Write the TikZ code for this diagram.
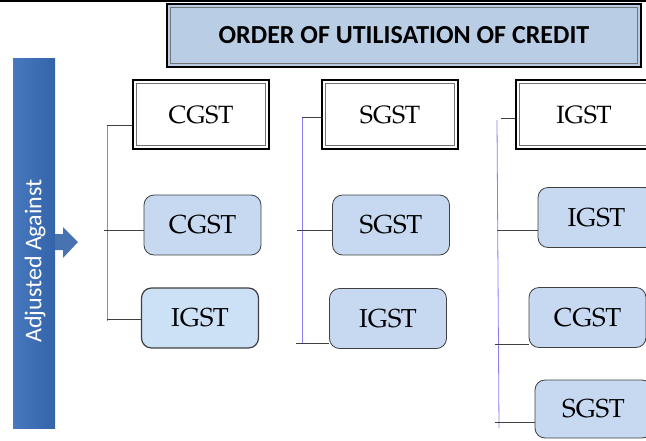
\documentclass[tikz,border=0pt]{standalone}
\usepackage{fontspec}
\setmainfont{TeX Gyre Pagella}
\newfontfamily\calibri{Carlito}
\usepackage{tikz}
\usetikzlibrary{backgrounds}
\definecolor{titlefill}{HTML}{B9CDE5}
\definecolor{taxfill}{HTML}{C6D9F1}
\definecolor{taxfilltwo}{HTML}{CCE0F6}
\definecolor{trunkblue}{HTML}{8A7EF2}
\definecolor{barlight}{HTML}{4878BE}
\definecolor{bardark}{HTML}{3364A8}
\tikzstyle{titlebox}=[rectangle, draw=black, line width=2.5pt, fill=titlefill,
  minimum width=474pt, minimum height=63pt, font=\calibri\bfseries\fontsize{26}{30}\selectfont]
\tikzstyle{headbox}=[rectangle, draw=black, line width=2.5pt, fill=white,
  minimum width=136pt, minimum height=69pt, font=\fontsize{25}{29}\selectfont]
\tikzstyle{taxbox}=[rectangle, rounded corners=10pt, draw=black!75, line width=0.8pt,
  fill=taxfill, minimum width=117pt, minimum height=60pt, font=\fontsize{26}{30}\selectfont]
\tikzstyle{innerline}=[draw=black!55, line width=0.8pt]
\tikzstyle{trunk}=[draw=trunkblue, line width=0.8pt]
\tikzstyle{branch}=[draw=black!75, line width=0.8pt]

\begin{document}
\begin{tikzpicture}[x=1pt, y=-1pt]
  \useasboundingbox (0,0) rectangle (646,440);
  \draw[line width=2pt] (0,1) -- (646,1);
  % title
  \node[titlebox] (title) at (404,35.5) {ORDER OF UTILISATION OF CREDIT};
  % side bar and arrow
  \shade[left color=barlight, right color=bardark] (13,58) rectangle (55,428);
  \node[rotate=90, text=white, font=\calibri\fontsize{24}{28}\selectfont] (adj) at (35,261) {Adjusted Against};
  \fill[bardark!90!white] (55,234) -- (63,234) -- (63,227) -- (78,242) -- (63,258) -- (63,250) -- (55,250) -- cycle;
  % headers
  \node[headbox] (h1) at (201,114.5) {CGST};
  \node[headbox] (h2) at (390,114.5) {SGST};
  \node[headbox] (h3) at (584,114.5) {IGST};
  \foreach \n in {title,h1,h2,h3}
    \draw[innerline] ([shift={(4.5pt,-4.5pt)}]\n.north west) rectangle ([shift={(-4.5pt,4.5pt)}]\n.south east);
  % credit boxes
  \node[taxbox] (c1) at (202.5,225) {CGST};
  \node[taxbox, fill=taxfilltwo, line width=1.2pt] (i1) at (200,318) {IGST};
  \node[taxbox] (s2) at (391,225) {SGST};
  \node[taxbox] (i2) at (388,318.5) {IGST};
  \node[taxbox] (i3) at (596.5,217.5) {IGST};
  \node[taxbox] (c3) at (587.5,317.5) {CGST};
  \node[taxbox, minimum height=58pt] (s3) at (593.5,409) {SGST};
  % connectors
  \coordinate (t1a) at (107,125); \coordinate (t1b) at (107,321);
  \coordinate (b1a) at (104,230); \coordinate (b1b) at (107,319);
  \coordinate (t2a) at (302,117); \coordinate (t2b) at (302,343);
  \coordinate (b2a) at (297,230); \coordinate (b2b) at (296,343);
  \coordinate (t3a) at (497,120); \coordinate (t3b) at (499,428);
  \coordinate (b3h) at (501,118); \coordinate (b3a) at (497,230);
  \coordinate (b3b) at (495,344); \coordinate (b3c) at (495,422);
  \begin{scope}[on background layer]
    \draw[trunk] (t1a) -- (t1b);
    \draw[trunk] (t2a) -- (t2b);
    \draw[trunk] (t3a) -- (t3b);
    \draw[branch] (t1a) -- (t1a -| h1.west);
    \draw[branch] (b1a) -- (b1a -| c1.west);
    \draw[branch] (b1b) -- (b1b -| i1.west);
    \draw[branch] (t2a) -- (t2a -| h2.west);
    \draw[branch] (b2a) -- (b2a -| s2.west);
    \draw[branch] (b2b) -- (b2b -| i2.west);
    \draw[branch] (b3h) -- (b3h -| h3.west);
    \draw[branch] (b3a) -- (b3a -| i3.west);
    \draw[branch] (b3b) -- (b3b -| c3.west);
    \draw[branch] (b3c) -- (b3c -| s3.west);
  \end{scope}
\end{tikzpicture}
\end{document}
